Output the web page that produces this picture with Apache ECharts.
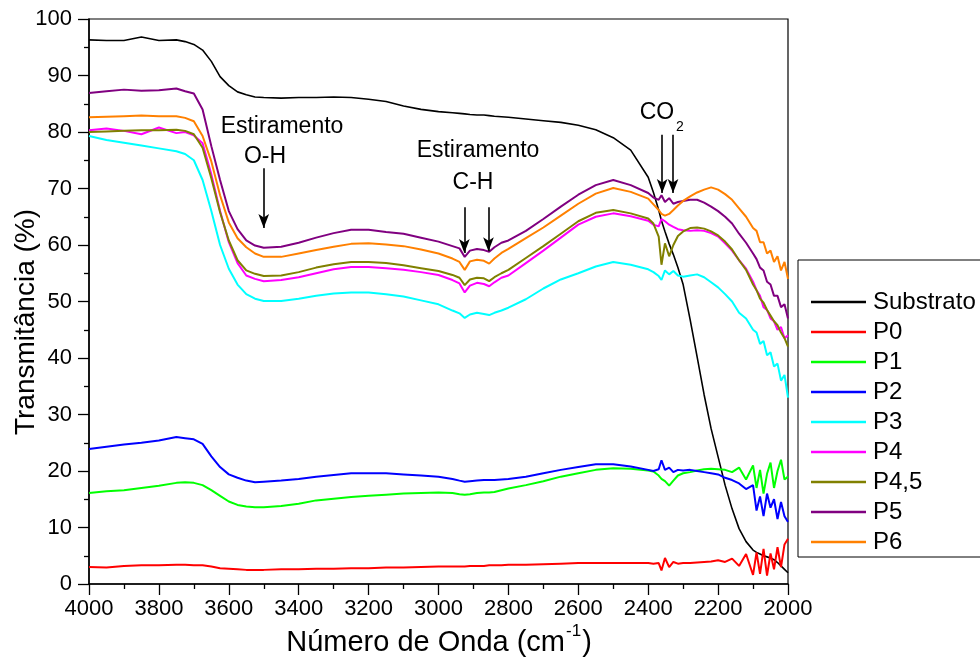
<!DOCTYPE html>
<html>
<head>
<meta charset="utf-8">
<script src="https://cdn.jsdelivr.net/npm/echarts@6/dist/echarts.min.js"></script>
<style>html,body{margin:0;padding:0;background:#fff;}#c{width:980px;height:664px;}</style>
</head>
<body>
<div id="c"></div>
<script>
const wavenumbers = [4000,3950,3900,3850,3800,3750,3725,3700,3675,3650,3625,3600,3575,3550,3525,3500,3450,3400,3350,3300,3250,3200,3150,3100,3050,3000,
  2960,2940,2925,2910,2890,2870,2855,2840,2820,2800,
  2750,2700,2650,2600,2550,2500,2450,2400,
  2385,2370,2362,2352,2340,2328,2315,2300,
  2280,2260,2240,2220,2200,
  2180,2160,2140,2120,2100,
  2090,2080,2070,2060,2050,2040,2030,2020,2010,2000];

const seriesNames = ['Substrato','P0','P1','P2','P3','P4','P4,5','P5','P6'];
const seriesColors = ['#000000','#ff0000','#00ff00','#0000ff','#00ffff','#ff00ff','#808000','#800080','#ff8000'];

const substrato = [96.3,96.2,96.2,96.8,96.2,96.3,96.0,95.5,94.5,92.5,89.8,88.2,87.1,86.6,86.2,86.1,86.0,86.1,86.1,86.2,86.1,85.8,85.4,84.6,84.0,83.6,
  83.4,83.3,83.2,83.1,83.0,83.0,82.9,82.8,82.7,82.6,
  82.3,82.0,81.7,81.2,80.4,79.0,76.8,72.0,
  69.3,66.2,64.3,62.4,60.2,58.3,56.0,53.0,
  46.8,40.2,33.5,27.5,22.5,
  17.5,13.3,9.8,7.5,6.0,
  5.6,5.3,5.0,4.8,4.6,4.3,3.8,3.2,2.6,2.0];
const p0 = [3.0,2.9,3.2,3.3,3.3,3.4,3.4,3.3,3.3,3.1,2.8,2.7,2.6,2.5,2.5,2.5,2.6,2.6,2.7,2.7,2.8,2.8,2.9,2.9,3.0,3.1,
  3.1,3.1,3.1,3.2,3.2,3.2,3.3,3.3,3.3,3.4,
  3.4,3.5,3.6,3.7,3.7,3.7,3.7,3.7,
  3.6,3.7,2.4,4.6,3.0,3.9,3.6,3.7,
  3.7,3.8,3.9,4.0,4.2,
  3.9,4.5,3.2,5.3,1.6,
  5.6,1.8,6.2,1.5,5.4,2.6,6.5,3.0,7.0,8.0];
const p1 = [16.1,16.4,16.6,17.0,17.4,17.9,18.0,17.9,17.5,16.6,15.6,14.6,14.0,13.7,13.6,13.6,13.8,14.2,14.8,15.1,15.4,15.6,15.8,16.0,16.1,16.2,
  16.1,15.9,15.8,15.9,16.1,16.2,16.2,16.3,16.6,16.9,
  17.5,18.2,19.0,19.6,20.2,20.5,20.4,20.1,
  19.9,19.2,18.6,18.2,17.4,18.3,19.2,19.6,
  19.8,20.1,20.3,20.4,20.3,
  20.2,19.8,20.6,18.5,21.0,
  17.0,20.2,16.0,19.5,21.5,17.0,20.0,22.0,18.5,19.0];
const p2 = [23.9,24.3,24.7,25.0,25.4,26.0,25.8,25.6,24.8,22.6,20.7,19.4,18.8,18.3,18.0,18.1,18.3,18.6,19.0,19.3,19.6,19.6,19.6,19.4,19.2,19.0,
  18.6,18.3,18.1,18.2,18.3,18.4,18.4,18.4,18.5,18.6,
  19.0,19.6,20.2,20.7,21.2,21.2,20.8,20.2,
  20.0,20.3,21.9,20.2,20.6,19.8,20.2,20.1,
  20.2,20.0,19.8,19.6,19.4,
  18.8,18.4,17.8,16.8,17.5,
  13.0,15.5,12.0,16.0,13.5,15.0,11.5,14.5,12.0,11.0];
const p3 = [79.3,78.6,78.1,77.6,77.1,76.6,76.1,75.0,71.5,66.0,60.0,55.8,53.0,51.3,50.5,50.1,50.1,50.5,51.0,51.4,51.6,51.6,51.3,50.9,50.2,49.5,
  48.4,47.9,47.1,47.7,48.0,47.8,47.6,48.0,48.4,48.9,
  50.4,52.3,53.9,55.0,56.2,57.0,56.5,55.7,
  55.2,54.5,53.8,55.5,54.8,55.4,54.6,54.4,
  54.6,54.8,54.3,53.4,52.5,
  51.3,50.0,48.0,47.0,45.0,
  44.5,42.5,43.0,40.5,41.0,38.5,39.0,36.0,37.0,33.0];
const p4 = [80.3,80.6,80.2,79.6,80.8,79.8,80.0,79.4,78.0,72.5,66.0,60.5,56.8,54.6,54.0,53.6,53.8,54.3,55.0,55.7,56.1,56.1,55.9,55.6,55.2,54.7,
  53.8,53.2,51.6,52.8,53.3,53.1,52.7,53.4,54.2,54.6,
  56.8,59.0,61.3,63.6,65.0,65.6,65.1,64.3,
  63.6,63.3,64.6,64.2,63.6,63.2,62.8,62.6,
  62.5,62.6,62.5,62.1,61.5,
  60.3,59.0,57.3,55.8,53.5,
  52.0,51.0,49.0,48.5,47.0,46.5,45.0,45.5,43.5,44.0];
const p45 = [80.0,80.1,80.2,80.3,80.3,80.4,80.2,79.6,77.2,71.8,65.8,60.8,57.3,55.5,54.9,54.5,54.6,55.2,56.0,56.6,57.0,57.0,56.8,56.4,55.9,55.4,
  54.7,54.2,52.9,53.9,54.2,54.1,53.6,54.3,55.0,55.6,
  57.7,59.8,62.0,64.2,65.7,66.2,65.6,64.7,
  63.8,61.5,56.5,60.3,58.0,60.0,61.6,62.4,
  63.0,63.1,62.9,62.4,61.7,
  60.6,59.2,57.3,55.6,53.0,
  52.0,50.5,49.8,48.5,47.5,46.5,45.8,44.5,43.5,42.0];
const p5 = [86.9,87.2,87.5,87.3,87.4,87.7,87.2,86.8,84.0,77.5,71.5,66.0,62.8,60.8,59.9,59.5,59.7,60.4,61.3,62.1,62.7,62.7,62.3,62.0,61.3,60.6,
  59.8,59.4,57.9,59.0,59.3,59.1,58.8,59.6,60.4,60.8,
  62.5,64.6,66.8,68.9,70.6,71.5,70.6,69.2,
  68.4,68.0,68.8,67.6,68.3,67.3,67.6,67.8,
  68.0,68.0,67.5,66.8,66.0,
  65.0,63.8,62.0,60.4,58.5,
  57.5,56.0,55.5,53.5,53.0,51.0,51.0,49.0,49.5,47.0];
const p6 = [82.6,82.7,82.8,82.9,82.8,82.8,82.5,81.9,79.3,74.8,68.8,64.0,61.2,59.6,58.5,57.9,57.9,58.5,59.1,59.7,60.2,60.3,60.1,59.8,59.2,58.5,
  57.6,57.0,55.6,57.1,57.4,57.2,56.7,57.6,58.6,59.3,
  61.2,63.1,65.2,67.3,69.1,70.1,69.4,68.2,
  67.2,66.2,65.5,65.2,65.5,66.2,67.0,67.8,
  68.6,69.3,69.8,70.2,69.8,
  69.0,68.0,66.5,65.0,63.0,
  62.5,60.5,60.5,58.5,59.0,57.0,58.0,55.5,57.0,54.0];

const allValues = [substrato,p0,p1,p2,p3,p4,p45,p5,p6];

// annotation arrows: [wavenumber, start %, end %]
const arrows = [[3500,73.6,63.0],[2926,66.7,58.6],[2857,66.7,58.9],[2360,79.5,69.2],[2329,79.5,69.2]];

const FONT = "'Liberation Sans', Arial, sans-serif";
const chart = echarts.init(document.getElementById('c'), null, {renderer:'canvas'});

const series = seriesNames.map((n,k)=>({
  name:n, type:'line', showSymbol:false, symbol:'none', animation:false,
  lineStyle:{color:seriesColors[k], width:k===0?1.6:2},
  itemStyle:{color:seriesColors[k]},
  data: wavenumbers.map((w,i)=>[w, allValues[k][i]])
}));
series.push({
  name:'arrows', type:'line', data:[], silent:true, animation:false,
  markLine:{silent:true, animation:false, symbol:['none','arrow'], symbolSize:[8,14],
    label:{show:false}, lineStyle:{color:'#000', width:1.6, type:'solid'},
    emphasis:{disabled:true},
    data: arrows.map(a=>[{coord:[a[0],a[1]]},{coord:[a[0],a[2]]}])}
});

chart.setOption({
  animation:false,
  backgroundColor:'#fff',
  grid:{left:89, right:192, top:19, bottom:80, show:true, borderColor:'#000', borderWidth:1.2, containLabel:false},
  xAxis:{type:'value', min:2000, max:4000, interval:200, inverse:true,
    axisLine:{show:true, onZero:false, lineStyle:{color:'#000', width:1.5}},
    axisTick:{show:true, inside:false, length:11, lineStyle:{color:'#000', width:1.3}},
    minorTick:{show:true, splitNumber:2, length:5, lineStyle:{color:'#000', width:1.3}},
    splitLine:{show:false},
    axisLabel:{color:'#000', fontSize:22, fontFamily:FONT, margin:14, formatter:v=>String(v)}
  },
  yAxis:{type:'value', min:0, max:100, interval:10,
    axisLine:{show:true, onZero:false, lineStyle:{color:'#000', width:1.5}},
    axisTick:{show:true, inside:false, length:11, lineStyle:{color:'#000', width:1.3}},
    minorTick:{show:true, splitNumber:2, length:5, lineStyle:{color:'#000', width:1.3}},
    splitLine:{show:false},
    axisLabel:{color:'#000', fontSize:22, fontFamily:FONT, margin:17, formatter:v=>String(v)}
  },
  legend:{orient:'vertical', left:798, top:260, data:seriesNames,
    backgroundColor:'#fff', borderColor:'#000', borderWidth:1,
    padding:[27,12,0,13], itemGap:0, itemWidth:55, itemHeight:2.5, icon:'rect',
    textStyle:{color:'#000', fontSize:24, fontFamily:FONT, lineHeight:30, padding:[0,0,0,2]},
    selectedMode:false
  },
  graphic:[
    {type:'text', x:26, y:322, rotation:Math.PI/2, silent:true,
      style:{text:'Transmitância (%)', font:'28px '+FONT, fill:'#000', align:'center', verticalAlign:'middle'}},
    {type:'text', x:439, y:640, silent:true,
      style:{text:'{a|Número de Onda (cm}{b|-1}{a|)}', fill:'#000', align:'center', verticalAlign:'middle',
        rich:{a:{fontSize:29, fontFamily:FONT, lineHeight:34, verticalAlign:'bottom'},
              b:{fontSize:17, fontFamily:FONT, lineHeight:34, verticalAlign:'top', padding:[0,1,0,1]}}}},
    {type:'text', x:282, y:127, silent:true, style:{text:'Estiramento', font:'23px '+FONT, fill:'#000', align:'center', verticalAlign:'middle'}},
    {type:'text', x:265, y:157, silent:true, style:{text:'O-H', font:'23px '+FONT, fill:'#000', align:'center', verticalAlign:'middle'}},
    {type:'text', x:478, y:151, silent:true, style:{text:'Estiramento', font:'23px '+FONT, fill:'#000', align:'center', verticalAlign:'middle'}},
    {type:'text', x:473, y:183, silent:true, style:{text:'C-H', font:'23px '+FONT, fill:'#000', align:'center', verticalAlign:'middle'}},
    {type:'text', x:657, y:113, silent:true, style:{text:'CO', font:'23px '+FONT, fill:'#000', align:'center', verticalAlign:'middle'}},
    {type:'text', x:680, y:127, silent:true, style:{text:'2', font:'14px '+FONT, fill:'#000', align:'center', verticalAlign:'middle'}}
  ],
  series: series
});
</script>
</body>
</html>
